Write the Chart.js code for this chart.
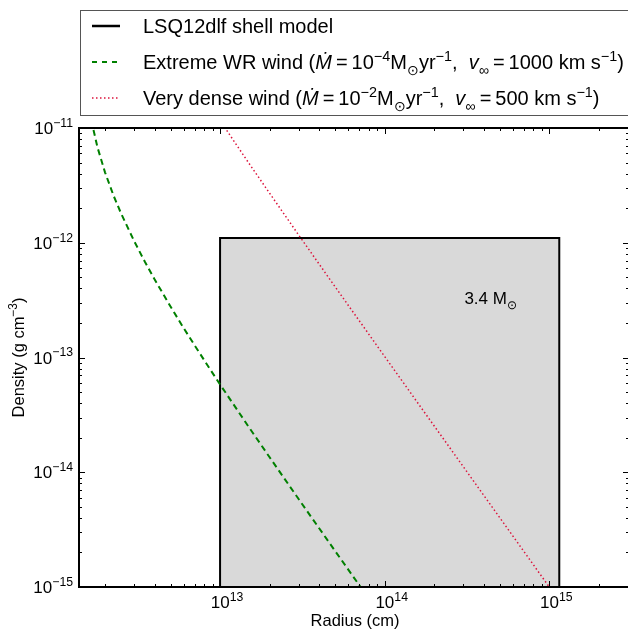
<!DOCTYPE html>
<html>
<head>
<meta charset="utf-8">
<script src="https://cdn.jsdelivr.net/npm/chart.js@4.4.0/dist/chart.umd.min.js"></script>
<style>
  html, body { margin: 0; padding: 0; overflow: hidden; background: #fff; }
</style>
</head>
<body>
<canvas id="chart" width="640" height="631"></canvas>
<script>
// Extreme WR wind
const radiusWR  = [1.65e12, 1.8e12, 2.0e12, 2.25e12, 2.5e12, 3e12, 3.5e12, 4e12, 5e12, 6e12, 7e12, 8.5e12, 1e13, 1.5e13, 2e13, 3e13, 5e13, 7e13, 8e13];
const densityWR = [1.17e-11, 6.79e-12, 4.11e-12, 2.59e-12, 1.81e-12, 1.04e-12, 6.79e-13, 4.80e-13, 2.78e-13, 1.81e-13, 1.28e-13, 8.30e-14, 5.82e-14, 2.46e-14, 1.35e-14, 5.84e-15, 2.06e-15, 1.04e-15, 7.97e-16];

// Very dense wind
const radiusDense  = [1e13, 1.2e13, 1.5e13, 2e13, 3e13, 5e13, 1e14, 2e14, 5e14, 1e15, 1.05e15];
const densityDense = [1.165e-11, 7.88e-12, 4.91e-12, 2.70e-12, 1.17e-12, 4.13e-13, 1.02e-13, 2.53e-14, 4.02e-15, 1.00e-15, 9.10e-16];

// LSQ12dlf shell model (box)
const shellRadius  = [1e13, 1e13, 1.15e15, 1.15e15];
const shellDensity = [1e-16, 1.1e-12, 1.1e-12, 1e-16];
const shellMassLabel = { r: 3.05e14, rho: 3.3e-13 };

const xRange = [1.39e12, 3.05e15];
const yRange = [1e-15, 1e-11];
const xMajor = [13, 14, 15];
const yMajor = [-15, -14, -13, -12, -11];

const FONT = '"Liberation Sans", Arial, Helvetica, sans-serif';

function toPoints(xs, ys) {
    return xs.map((x, i) => ({ x: x, y: ys[i] }));
}

// draws text made of pieces: {t, sup, sub, it}
function rich(ctx, segs, x, y, size, align) {
    let parts = segs.map(s => {
        let sz = (s.sup || s.sub) ? size * 0.72 : size;
        let font = (s.it ? 'italic ' : '') + sz + 'px ' + FONT;
        ctx.font = font;
        return { t: s.t, font: font, w: ctx.measureText(s.t).width,
                 dy: s.sup ? -size * 0.42 : (s.sub ? size * 0.28 : 0) };
    });
    let total = parts.reduce((a, p) => a + p.w, 0);
    let cx = align === 'right' ? x - total : (align === 'center' ? x - total / 2 : x);
    ctx.textAlign = 'left';
    ctx.textBaseline = 'alphabetic';
    parts.forEach(p => {
        ctx.font = p.font;
        ctx.fillText(p.t, cx, y + p.dy);
        cx += p.w;
    });
}

const framePlugin = {
    id: 'frame',
    afterDatasetsDraw(chart) {
        const ctx = chart.ctx, a = chart.chartArea;
        const xs = chart.scales.x, ys = chart.scales.y;
        ctx.save();
        ctx.strokeStyle = '#000';
        ctx.fillStyle = '#000';

        // inward ticks on all four sides
        ctx.lineWidth = 1;
        const tick = (px, len, horiz) => {
            ctx.beginPath();
            if (horiz) {
                ctx.moveTo(px, a.bottom); ctx.lineTo(px, a.bottom - len);
                ctx.moveTo(px, a.top);    ctx.lineTo(px, a.top + len);
            } else {
                ctx.moveTo(a.left, px);  ctx.lineTo(a.left + len, px);
                ctx.moveTo(a.right, px); ctx.lineTo(a.right - len, px);
            }
            ctx.stroke();
        };
        for (let e = 12; e <= 15; e++) {
            for (let m = 1; m < 10; m++) {
                let v = m * Math.pow(10, e);
                if (v < xRange[0] || v > xRange[1]) continue;
                tick(Math.round(xs.getPixelForValue(v)) + 0.5, m === 1 ? 6 : 3, true);
            }
        }
        for (let e = -15; e <= -12; e++) {
            for (let m = 1; m < 10; m++) {
                let v = m * Math.pow(10, e);
                tick(Math.round(ys.getPixelForValue(v)) + 0.5, m === 1 ? 6 : 3, false);
            }
        }
        tick(Math.round(ys.getPixelForValue(1e-11)) + 0.5, 6, false);

        // frame
        ctx.lineWidth = 2;
        ctx.strokeRect(a.left, a.top, a.right - a.left, a.bottom - a.top);

        // tick labels
        xMajor.forEach(e => {
            let px = xs.getPixelForValue(Math.pow(10, e));
            rich(ctx, [{ t: '10' }, { t: String(e), sup: true }], px + 7, a.bottom + 21, 17, 'center');
        });
        yMajor.forEach(e => {
            let py = ys.getPixelForValue(Math.pow(10, e));
            rich(ctx, [{ t: '10' }, { t: '\u2212' + Math.abs(e), sup: true }], a.left - 6, py + 6, 17, 'right');
        });

        // axis titles
        rich(ctx, [{ t: 'Radius (cm)' }], (a.left + a.right) / 2 + 1, 626, 16.5, 'center');
        ctx.save();
        ctx.translate(24, (a.top + a.bottom) / 2);
        ctx.rotate(-Math.PI / 2);
        rich(ctx, [{ t: 'Density (g cm' }, { t: '\u22123', sup: true }, { t: ')' }], 0, 0, 16.5, 'center');
        ctx.restore();

        // shell mass annotation
        rich(ctx, [{ t: '3.4 M' }, { t: '\u2299', sub: true }],
             xs.getPixelForValue(shellMassLabel.r), ys.getPixelForValue(shellMassLabel.rho) + 6, 17, 'left');

        // legend box
        ctx.lineWidth = 1;
        ctx.strokeStyle = '#555';
        ctx.fillStyle = '#fff';
        ctx.fillRect(80.5, 10.5, 600, 105);
        ctx.strokeRect(80.5, 10.5, 600, 105);

        const rows = [
            { y: 26, color: '#000', width: 2.5, dash: [],
              text: [{ t: 'LSQ12dlf shell model' }] },
            { y: 62, color: '#008000', width: 2, dash: [5, 5],
              text: [{ t: 'Extreme WR wind (' }, { t: '\u1E40', it: true }, { t: '\u2009=\u200910' }, { t: '\u22124', sup: true },
                     { t: 'M' }, { t: '\u2299', sub: true }, { t: 'yr' }, { t: '\u22121', sup: true }, { t: ',  ' },
                     { t: 'v', it: true }, { t: '\u221E', sub: true }, { t: '\u2009=\u20091000 km s' }, { t: '\u22121', sup: true }, { t: ')' }] },
            { y: 98, color: '#dc143c', width: 1.5, dash: [1.5, 2.5],
              text: [{ t: 'Very dense wind (' }, { t: '\u1E40', it: true }, { t: '\u2009=\u200910' }, { t: '\u22122', sup: true },
                     { t: 'M' }, { t: '\u2299', sub: true }, { t: 'yr' }, { t: '\u22121', sup: true }, { t: ',  ' },
                     { t: 'v', it: true }, { t: '\u221E', sub: true }, { t: '\u2009=\u2009500 km s' }, { t: '\u22121', sup: true }, { t: ')' }] }
        ];
        rows.forEach(r => {
            ctx.beginPath();
            ctx.strokeStyle = r.color;
            ctx.lineWidth = r.width;
            ctx.setLineDash(r.dash);
            ctx.moveTo(92, r.y);
            ctx.lineTo(120, r.y);
            ctx.stroke();
            ctx.setLineDash([]);
            ctx.fillStyle = '#000';
            rich(ctx, r.text, 143, r.y + 7, 20, 'left');
        });
        ctx.restore();
    }
};

new Chart(document.getElementById('chart'), {
    type: 'scatter',
    data: {
        datasets: [
            {
                label: 'Extreme WR wind',
                data: toPoints(radiusWR, densityWR),
                showLine: true,
                borderColor: '#008000',
                borderWidth: 2,
                borderDash: [6, 4],
                pointRadius: 0,
                fill: false,
                order: 1
            },
            {
                label: 'Very dense wind',
                data: toPoints(radiusDense, densityDense),
                showLine: true,
                borderColor: '#dc143c',
                borderWidth: 1.5,
                borderDash: [1.5, 2.5],
                pointRadius: 0,
                fill: false,
                order: 2
            },
            {
                label: 'LSQ12dlf shell model',
                data: toPoints(shellRadius, shellDensity),
                showLine: true,
                borderColor: '#000',
                borderWidth: 2,
                backgroundColor: '#d9d9d9',
                pointRadius: 0,
                fill: 'start',
                order: 3
            }
        ]
    },
    options: {
        responsive: false,
        animation: false,
        layout: { padding: { left: 79, top: 128, right: 11, bottom: 44 } },
        scales: {
            x: { type: 'logarithmic', min: xRange[0], max: xRange[1], display: false },
            y: { type: 'logarithmic', min: yRange[0], max: yRange[1], display: false }
        },
        plugins: {
            legend: { display: false },
            tooltip: { enabled: false }
        }
    },
    plugins: [framePlugin]
});
</script>
</body>
</html>
